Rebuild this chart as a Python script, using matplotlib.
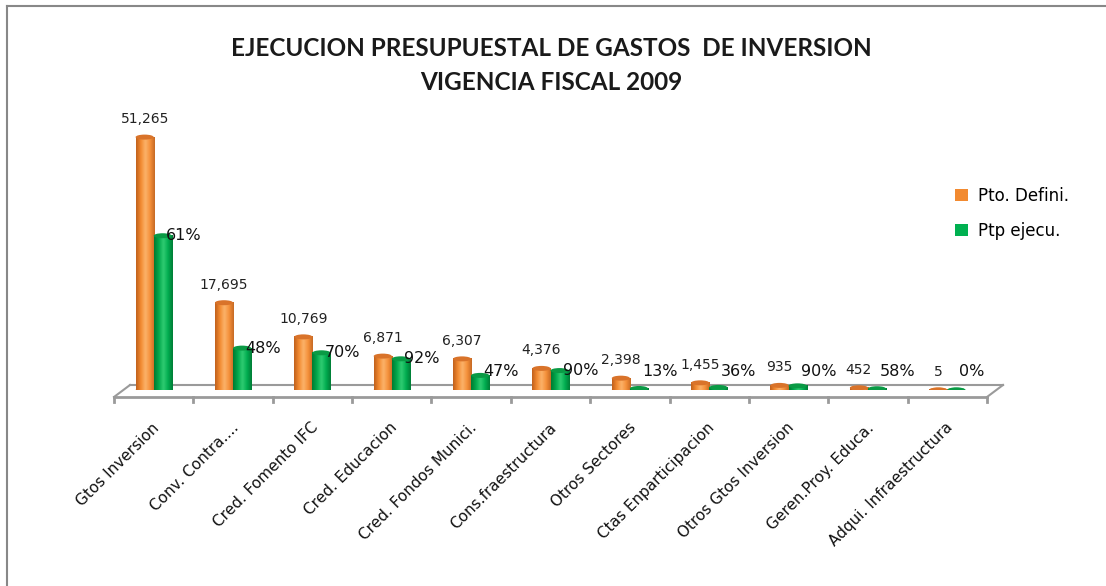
import numpy as np
import matplotlib
matplotlib.use("Agg")
import matplotlib.pyplot as plt
from matplotlib.patches import Ellipse, Patch
from matplotlib.colors import LinearSegmentedColormap
from matplotlib.lines import Line2D

# datos
categorias = ["Gtos Inversion", "Conv. Contra....", "Cred. Fomento IFC", "Cred. Educacion",
              "Cred. Fondos Munici.", "Cons.fraestructura", "Otros Sectores",
              "Ctas Enparticipacion", "Otros Gtos Inversion", "Geren.Proy. Educa.",
              "Adqui. Infraestructura"]
pto_definido = [51265, 17695, 10769, 6871, 6307, 4376, 2398, 1455, 935, 452, 5]
ptp_ejecutado = [31270, 8490, 7540, 6320, 2960, 3940, 310, 520, 840, 260, 0]
pct_labels = ["61%", "48%", "70%", "92%", "47%", "90%", "13%", "36%", "90%", "58%", "0%"]

W, H = 1106, 586
fig = plt.figure(figsize=(W / 100, H / 100), dpi=100)

# area del grafico en pixeles
x_left, x_right = 114, 987
y_base, y_top = 390, 94
ymax = 60000
ax = fig.add_axes([x_left / W, 1 - y_base / H, (x_right - x_left) / W, (y_base - y_top) / H])
ax.set_xlim(-0.5, len(categorias) - 0.5)
ax.set_ylim(0, ymax)
ax.axis("off")

px_y = ymax / (y_base - y_top)          # unidades por pixel en y
px_x = len(categorias) / (x_right - x_left)

bw = 0.228
off = 0.114

orange_cm = LinearSegmentedColormap.from_list("o", ["#c0601c", "#f28a30", "#fbb36a", "#f5903a", "#c66a24"])
green_cm = LinearSegmentedColormap.from_list("g", ["#007a32", "#00a84c", "#30cc72", "#00ad50", "#007d36"])
grad = np.linspace(0, 1, 64).reshape(1, -1)
cap_h = 5 * px_y


def cilindro(xc, h, cmap, top_col, bot_col):
    x0, x1 = xc - bw / 2, xc + bw / 2
    ax.add_patch(Ellipse((xc, 0), bw, cap_h, facecolor=bot_col, edgecolor="none", zorder=2))
    if h > 0:
        ax.imshow(grad, cmap=cmap, extent=(x0, x1, 0, h), aspect="auto", zorder=3,
                  interpolation="bicubic")
    ax.add_patch(Ellipse((xc, h), bw, cap_h, facecolor=top_col, edgecolor="none", zorder=4))


for i, (a, b) in enumerate(zip(pto_definido, ptp_ejecutado)):
    cilindro(i - off, a, orange_cm, "#d9732a", "#f39a48")
    cilindro(i + off, b, green_cm, "#0a9a45", "#22b85e")

ax.set_xlim(-0.5, len(categorias) - 0.5)
ax.set_ylim(0, ymax)

# piso en perspectiva
gris = "#9a9a9a"
xa, xb = -0.5, len(categorias) - 0.5
dx, dy = 16 * px_x, 12 * px_y
fy = -7 * px_y
ax.add_line(Line2D([xa, xb], [fy, fy], color=gris, lw=2.0, clip_on=False, zorder=1))
ax.add_line(Line2D([xa + dx, xb + dx], [fy + dy, fy + dy], color=gris, lw=1.5, clip_on=False, zorder=1))
ax.add_line(Line2D([xa, xa + dx], [fy, fy + dy], color=gris, lw=1.5, clip_on=False, zorder=1))
ax.add_line(Line2D([xb, xb + dx], [fy, fy + dy], color=gris, lw=1.5, clip_on=False, zorder=1))
for t in np.arange(xa, xb + 0.01, 1.0):
    ax.add_line(Line2D([t, t], [fy, fy - 5 * px_y], color=gris, lw=2, clip_on=False, zorder=1))

# etiquetas de valores
for i, v in enumerate(pto_definido):
    ax.annotate(f"{v:,}", (i - off, v), xytext=(0, 18), textcoords="offset pixels",
                ha="center", va="center", fontsize=10, color="#222222", zorder=6)
for i, (v, s) in enumerate(zip(ptp_ejecutado, pct_labels)):
    ax.annotate(s, (i, max(v, 3700)), xytext=(12, 0), textcoords="offset pixels",
                ha="left", va="center", fontsize=11.5, color="#111111", zorder=6)

# categorias
for i, c in enumerate(categorias):
    ax.annotate(c, (i, 0), xytext=(-2, -30), textcoords="offset pixels", rotation=45,
                rotation_mode="anchor", ha="right", va="top", fontsize=11, color="#111111")

# titulo
fig.text(551 / W, 1 - 48 / H, "EJECUCION PRESUPUESTAL DE GASTOS  DE INVERSION",
         ha="center", va="center", fontsize=17.5, fontfamily="Lato", fontweight="bold", color="#1a1a1a")
fig.text(551 / W, 1 - 82 / H, "VIGENCIA FISCAL 2009",
         ha="center", va="center", fontsize=17.5, fontfamily="Lato", fontweight="bold", color="#1a1a1a")

# leyenda
handles = [Patch(facecolor="#f28a30", edgecolor="none"), Patch(facecolor="#00b050", edgecolor="none")]
fig.legend(handles, ["Pto. Defini.", "Ptp ejecu."], loc="upper left",
           bbox_to_anchor=(940 / W, 1 - 172 / H), frameon=False, fontsize=12,
           handlelength=0.75, handleheight=0.75, handletextpad=0.6, labelspacing=1.0)

# marco
fig.add_artist(Line2D([7 / W, 7 / W], [0, 1 - 6 / H], color="#888888", lw=1.5))
fig.add_artist(Line2D([7 / W, 1], [1 - 6 / H, 1 - 6 / H], color="#888888", lw=1.5))

fig.savefig("out.png", dpi=100)
